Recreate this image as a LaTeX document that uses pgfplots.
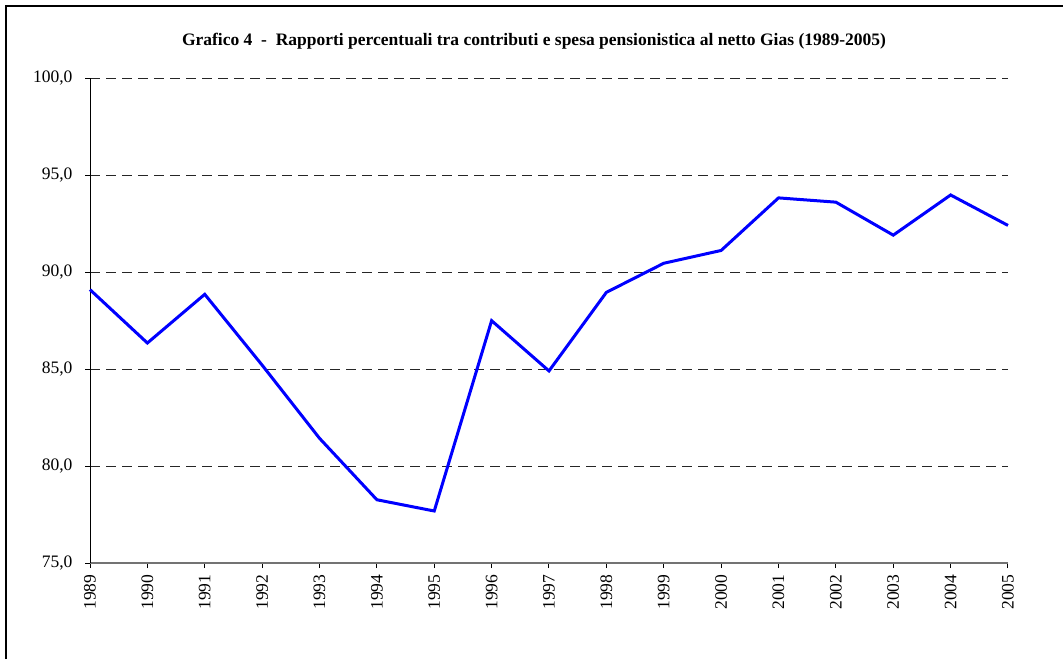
\documentclass[border=0pt]{standalone}
\usepackage{fontspec}
\setmainfont{Liberation Serif}
\usepackage{pgfplots}
\pgfplotsset{compat=1.18}
\begin{document}
\begin{tikzpicture}
\useasboundingbox (0,0) rectangle (1063pt,659pt);
\draw[line width=2pt] (6pt,0) -- (6pt,653pt) -- (1063pt,653pt);
\begin{axis}[
  at={(90pt,96pt)}, anchor=south west,
  scale only axis, width=918pt, height=485pt,
  xmin=1989, xmax=2005, ymin=75, ymax=100,
  xtick={1989,...,2005}, ytick={75,80,...,100},
  axis x line=bottom, axis y line=left,
  x axis line style={-, draw=black!55, line width=1.6pt},
  y axis line style={-, draw=black, line width=0.8pt},
  tick align=outside, major tick length=5pt,
  xtick style={draw=black, line width=0.9pt},
  ytick style={draw=black, line width=0.8pt},
  ymajorgrids,
  major grid style={dash pattern=on 10pt off 6pt, draw=black!85, line width=0.8pt},
  tick label style={font=\fontsize{17.5}{20}\selectfont},
  xticklabel style={yshift=-3pt, rotate=90, anchor=east, /pgf/number format/1000 sep={}, /pgf/number format/assume math mode=true},
  yticklabel style={xshift=-9pt, /pgf/number format/.cd, fixed, fixed zerofill, precision=1, use comma, assume math mode=true},
  clip=false,
]
\addplot[draw={rgb,255:red,0;green,0;blue,255}, line width=3pt, line join=miter] coordinates {
(1989,89.09) (1990,86.34) (1991,88.85) (1992,85.2) (1993,81.43) (1994,78.26)
(1995,77.68) (1996,87.49) (1997,84.90) (1998,88.95) (1999,90.45) (2000,91.11)
(2001,93.82) (2002,93.60) (2003,91.90) (2004,93.97) (2005,92.40)
};
\end{axis}
\node[font=\bfseries\fontsize{17.5}{20}\selectfont] at (534pt,618pt) {Grafico 4\ \ -\ \ Rapporti percentuali tra contributi e spesa pensionistica al netto Gias (1989-2005)};
\end{tikzpicture}
\end{document}
